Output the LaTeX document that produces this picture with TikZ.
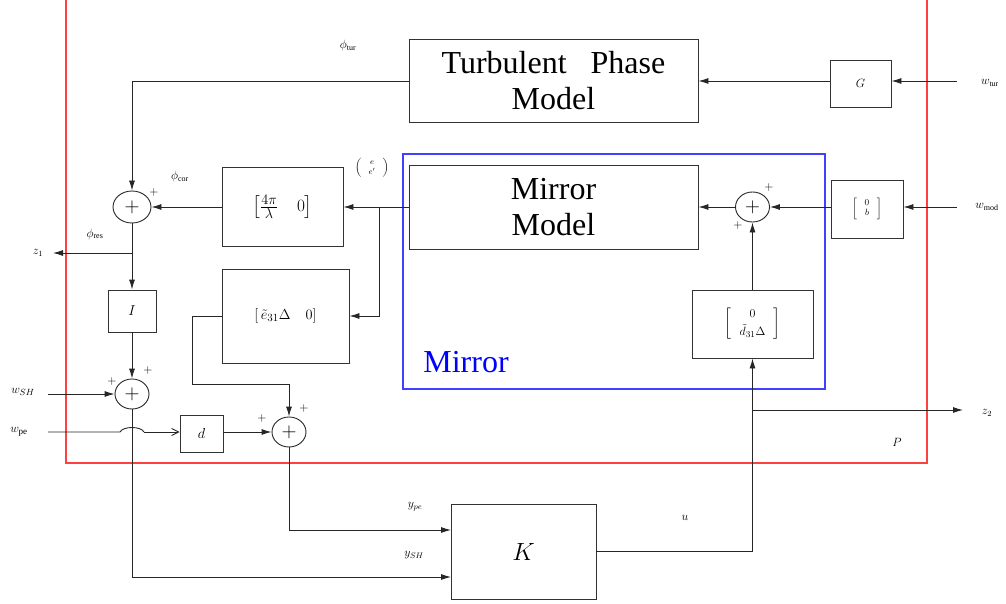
\documentclass[tikz,border=0pt]{standalone}
\usepackage{amsmath,amssymb}
\usepackage{fontspec}
\setmainfont{Liberation Serif}
\usepackage{tikz}
\usetikzlibrary{arrows.meta,shapes.geometric,calc}

\tikzset{
  blk/.style={draw=black!80, line width=0.9pt, rectangle, inner sep=0pt},
  sumnode/.style={draw=black!85, line width=0.9pt, ellipse, inner sep=0pt,
    minimum width=34pt, minimum height=30pt, font=\fontsize{20}{20}\selectfont},
  sig/.style={line width=0.9pt, draw=black!85, -{Latex[length=10pt,width=6pt]}},
  wire/.style={line width=0.9pt, draw=black!85},
  lbl/.style={inner sep=0pt, font=\fontsize{12}{13}\selectfont},
  big/.style={align=center, font=\fontsize{32}{36}\selectfont},
}

\begin{document}
\begin{tikzpicture}[x=1pt, y=-1pt]
		\useasboundingbox (0,0) rectangle (1006,604);
		
		% 1. 外框 P 与 Mirror
		\draw[red!75, line width=1.3pt] (66,-10) rectangle (927,463);
		\draw[blue!75, line width=1.2pt] (403,154) rectangle (825,389);
		\node[big, text=blue, inner sep=0pt] (mirlbl) at (466,362) {Mirror};
		\node[inner sep=0pt, font=\fontsize{13}{13}\selectfont] (plbl) at (897,442) {$P$};
		
		% 2. 方框
		\node[blk, big, minimum width=289pt, minimum height=83pt] (tpm) at (553.5,81) {Turbulent\hspace{0.5em} Phase\\Model};
		\node[blk, big, minimum width=289pt, minimum height=84pt] (mm) at (553.5,207) {Mirror\\Model};
		\node[blk, minimum width=61pt, minimum height=47pt, font=\fontsize{13}{13}\selectfont] (G) at (860.5,83.5) {$G$};
		\node[blk, minimum width=72pt, minimum height=58pt, font=\fontsize{9}{10}\selectfont] (B) at (867,209) {$\left[\;\begin{array}{c}0\\ b\end{array}\;\right]$};
		\node[blk, minimum width=121pt, minimum height=68pt, font=\fontsize{13}{14}\selectfont] (dd) at (752.5,324) {$\left[\;\begin{array}{c}0\\[3pt] \tilde{d}_{31}\Delta\end{array}\;\right]$};
		\node[blk, minimum width=121pt, minimum height=79pt, font=\fontsize{19}{20}\selectfont] (ka) at (282.5,207) {$\left[\tfrac{4\pi}{\lambda}\quad 0\right]$};
		\node[blk, minimum width=127pt, minimum height=94pt, font=\fontsize{15}{16}\selectfont] (eb) at (285.5,316) {$[\,\tilde{e}_{31}\Delta\quad 0]$};
		\node[blk, minimum width=48pt, minimum height=42pt, font=\fontsize{14}{14}\selectfont] (I) at (132,311) {$I$};
		\node[blk, minimum width=43pt, minimum height=37pt, font=\fontsize{14}{14}\selectfont] (d) at (201.5,433.5) {\raisebox{-6pt}{$d$}};
		\node[blk, minimum width=145pt, minimum height=95pt, font=\fontsize{28}{28}\selectfont] (K) at (523.5,551.5) {$K$};
		
		% 3. 加法点
		\node[sumnode, minimum width=38pt, minimum height=32pt] (s1) at (132,207) {$+$};
		\node[sumnode] (s2) at (132,394) {$+$};
		\node[sumnode] (s3) at (289,432) {$+$};
		\node[sumnode] (s4) at (752.5,207) {$+$};
		\node[lbl] (p1) at (154,193) {$+$};
		\node[lbl] (p2a) at (148,370) {$+$};
		\node[lbl] (p2b) at (112,381) {$+$};
		\node[lbl] (p3a) at (262,418) {$+$};
		\node[lbl] (p3b) at (304,408) {$+$};
		\node[lbl] (p4a) at (769,188) {$+$};
		\node[lbl] (p4b) at (738,225) {$+$};
		
		% 4. 外部信号端点
		\coordinate (wtur) at (957,81);
		\coordinate (wmod) at (957,207);
		\coordinate (wsh) at (48,394);
		\coordinate (wpe) at (48,432);
		\coordinate (z1) at (53,253);
		\coordinate (z2) at (963,410);
		\coordinate (br) at (379,207);  % 分支点
		\coordinate (yb) at (132,253);
		\coordinate (ub) at (752.5,410);
		\coordinate (ype) at (451,530);
		\coordinate (ysh) at (451,577);
		
		% 5. 信号名
		\node[lbl] (wturlbl) at (990,83) {$w_{\mathrm{tur}}$};
		\node[lbl] (wmodlbl) at (987,207) {$w_{\mathrm{mod}}$};
		\node[lbl] (z2lbl) at (987,413) {$z_2$};
		\node[lbl] (z1lbl) at (38,253) {$z_1$};
		\node[lbl, font=\fontsize{13}{13}\selectfont] (wshlbl) at (23,392) {$w_{SH}$};
		\node[lbl, font=\fontsize{13}{13}\selectfont] (wpelbl) at (19,432) {$w_{\mathrm{pe}}$};
		\node[lbl] (phtur) at (348,46) {$\phi_{\mathrm{tur}}$};
		\node[lbl] (phcor) at (180,177) {$\phi_{\mathrm{cor}}$};
		\node[lbl] (phres) at (95,234) {$\phi_{\mathrm{res}}$};
		\node[lbl, font=\fontsize{8}{9}\selectfont] (eelbl) at (372,168) {$\left(\;\begin{array}{c}e\\[1pt] e'\end{array}\;\right)$};
		\node[lbl] (ypelbl) at (415,507) {$y_{pe}$};
		\node[lbl] (yshlbl) at (414,555) {$y_{SH}$};
		\node[lbl] (ulbl) at (685,518) {$u$};
		
		% 6. 上半部分连线
		\draw[sig] (wtur) -- (G.east |- wtur);
		\draw[sig] (G.west |- tpm.east) -- (tpm.east);
		\draw[sig] (tpm.west) -| (s1.north);
		\draw[sig] (wmod) -- (B.east |- wmod);
		\draw[sig] (B.west |- s4.east) -- (s4.east);
		\draw[sig] (s4.west) -- (mm.east);
		\draw[sig] (dd.north) -- (s4.south);
		\draw[sig] (mm.west) -- (ka.east);
		\draw[sig] (br) |- (eb.east);
		\draw[sig] (ka.west) -- (s1.east);
		
		% 7. 左侧与下半部分连线
		\draw[sig] (s1.south) -- (I.north);
		\draw[sig] (yb) -- (z1);
		\draw[sig] (I.south) -- (s2.north);
		\draw[sig] (wsh) -- (s2.west);
		\draw[wire] (wpe) -- (120,432) .. controls (123,426) and (141,426) .. (144,432);
		\draw[line width=0.9pt, draw=black!85, -{Straight Barb[length=7pt,width=7pt]}] (144,432) -- (d.west |- wpe);
		\draw[sig] (d.east |- s3.west) -- (s3.west);
		\draw[sig] (eb.west) -| (192,384) -| (s3.north);
		\draw[sig] (s3.south) |- (ype);
		\draw[sig] (s2.south) |- (ysh);
		\draw[sig] (K.east) -| (dd.south);
		\draw[sig] (ub) -- (z2);
		
	\end{tikzpicture}
\end{document}
